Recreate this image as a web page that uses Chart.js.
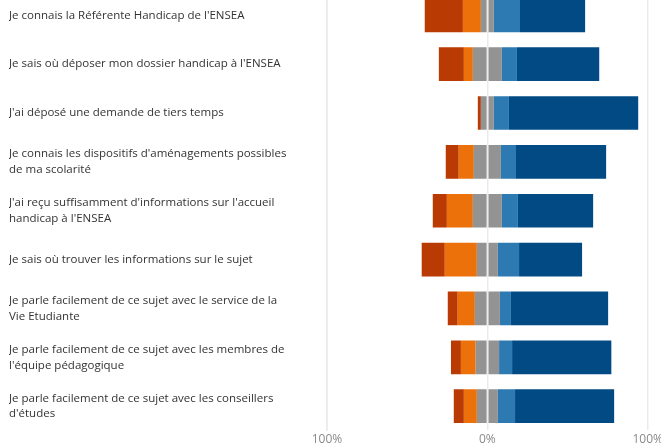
<!DOCTYPE html>
<html>
<head>
<meta charset="utf-8">
<script src="https://cdn.jsdelivr.net/npm/chart.js@4.4.1/dist/chart.umd.min.js"></script>
<style>
  html, body { margin:0; padding:0; background:#fff; overflow:hidden; }
  #wrap { position:absolute; left:0; top:-25px; width:665px; height:476px; }
</style>
</head>
<body>
<div id="wrap"><canvas id="likertChart"></canvas></div>
<script>
const questions = [
  "Je connais la Référente Handicap de l'ENSEA",
  "Je sais où déposer mon dossier handicap à l'ENSEA",
  "J'ai déposé une demande de tiers temps",
  ["Je connais les dispositifs d'aménagements possibles", "de ma scolarité"],
  ["J'ai reçu suffisamment d'informations sur l'accueil", "handicap à l'ENSEA"],
  "Je sais où trouver les informations sur le sujet",
  ["Je parle facilement de ce sujet avec le service de la", "Vie Etudiante"],
  ["Je parle facilement de ce sujet avec les membres de", "l'équipe pédagogique"],
  ["Je parle facilement de ce sujet avec les conseillers", "d'études"]
];

// percentages per answer level
const pasDuTout   = [23.8, 15.6, 1.9, 8.1, 8.8, 14.4, 6.2, 6.2, 6.3];
const plutotPas   = [11.2,  5.6, 0.0, 9.4, 16.2, 20.0, 10.7, 9.2, 8.1];
const neutre      = [ 8.1, 18.1, 8.1, 16.9, 18.1, 13.1, 15.6, 14.6, 13.1];
const plutotOui   = [16.3,  9.4, 9.4, 9.4, 10.0, 13.2, 6.9, 8.1, 10.7];
const toutAFait   = [40.6, 51.3, 80.6, 56.2, 46.9, 39.3, 60.6, 61.9, 61.8];

const xTicks = [-100, 0, 100];

const half = v => v / 2;
const neg = v => -v;

const datasets = [
  { label:'Neutre', data: neutre.map(v => -half(v)), backgroundColor:'#939393' },
  { label:'Plutôt pas', data: plutotPas.map(neg), backgroundColor:'#EC710A' },
  { label:'Pas du tout', data: pasDuTout.map(neg), backgroundColor:'#BA3A03' },
  { label:'Neutre ', data: neutre.map(half), backgroundColor:'#939393' },
  { label:'Plutôt oui', data: plutotOui, backgroundColor:'#2C7AB1' },
  { label:'Tout à fait', data: toutAFait, backgroundColor:'#024A84' }
];

new Chart(document.getElementById('likertChart'), {
  type:'bar',
  data:{ labels: questions, datasets: datasets.map(d => ({ ...d, barPercentage:0.69, categoryPercentage:1, borderWidth:0 })) },
  options:{
    indexAxis:'y',
    responsive:true,
    maintainAspectRatio:false,
    animation:false,
    layout:{ padding:{ left:9, right:0, top:0, bottom:2 } },
    plugins:{ legend:{ display:false }, tooltip:{ enabled:false } },
    scales:{
      x:{
        stacked:true,
        min:-100, max:100,
        afterBuildTicks: s => { s.ticks = xTicks.map(v => ({ value:v })); },
        ticks:{ color:'#8a8a8a', font:{ family:'Open Sans', size:12 }, padding:2, callback: v => Math.abs(v) + '%' },
        grid:{ color:'#ebebeb', lineWidth:1.5, drawTicks:false, z:1 },
        border:{ color:'#e6e6e6', width:1.5 }
      },
      y:{
        stacked:true,
        afterFit: s => { s.width = 318; },
        ticks:{ color:'#333333', crossAlign:'far', font:{ family:'Open Sans', size:11.5, lineHeight:1.38 }, padding:0 },
        grid:{ display:false, drawTicks:false },
        border:{ color:'#e6e6e6', width:1.5 }
      }
    }
  }
});
</script>
</body>
</html>
